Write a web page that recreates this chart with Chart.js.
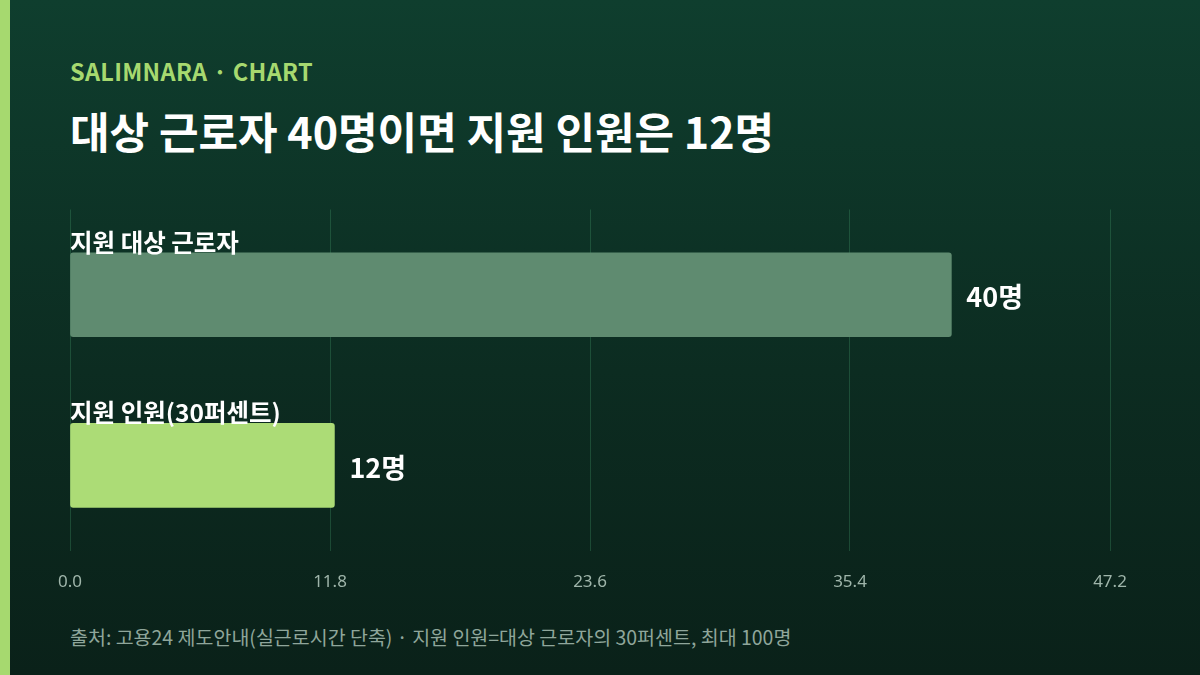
<!DOCTYPE html>
<html><head><meta charset="utf-8">
<script src="https://cdn.jsdelivr.net/npm/chart.js@4/dist/chart.umd.min.js"></script>
<style>
html,body{margin:0;padding:0;}
body{width:1200px;height:675px;overflow:hidden;position:relative;
 background:linear-gradient(180deg,#0f3e2e 0%,#0c2c21 55%,#0a2119 100%);
 font-family:"Noto Sans CJK KR","Noto Sans",sans-serif;}
#accent{position:absolute;left:0;top:0;width:10px;height:675px;background:#a6d96f;}
#brand{position:absolute;left:70px;top:54px;color:#a6d96f;font-size:23.5px;font-weight:700;letter-spacing:0.3px;}
#title{position:absolute;left:70px;top:99px;color:#fff;font-size:43px;font-weight:700;}
#note{position:absolute;left:70px;top:622px;color:#8fa69b;font-size:19.5px;}
#wrap{position:absolute;left:0;top:190px;width:1200px;height:423px;}
</style></head><body>
<div id="accent"></div>
<div id="brand">SALIMNARA · CHART</div>
<div id="title">대상 근로자 40명이면 지원 인원은 12명</div>
<div id="wrap"><canvas id="myChart"></canvas></div>
<div id="note">출처: 고용24 제도안내(실근로시간 단축) · 지원 인원=대상 근로자의 30퍼센트, 최대 100명</div>
<script>
const categories = ['지원 대상 근로자', '지원 인원(30퍼센트)'];
const values = [40, 12];
const valueLabels = ['40명', '12명'];
const barColors = ['#5f8b70', '#acdc76'];
const tickStep = 11.8;
const axisMax = 47.2;

const labelPlugin = {
    id: 'labels',
    afterDatasetsDraw(chart) {
        const ctx = chart.ctx;
        const meta = chart.getDatasetMeta(0);
        ctx.save();
        ctx.fillStyle = '#ffffff';
        meta.data.forEach((bar, i) => {
            const top = bar.y - bar.height / 2;
            ctx.font = '700 24.5px "Noto Sans CJK KR"';
            ctx.textBaseline = 'bottom';
            ctx.textAlign = 'left';
            ctx.fillText(categories[i], chart.chartArea.left, top + 2);
            ctx.font = '700 27px "Noto Sans CJK KR"';
            ctx.textBaseline = 'middle';
            ctx.fillText(valueLabels[i], bar.x + 15, bar.y + 2);
        });
        ctx.restore();
    }
};

const ctx = document.getElementById('myChart');
new Chart(ctx, {
    type: 'bar',
    data: {
        labels: categories,
        datasets: [{
            data: values,
            backgroundColor: barColors,
            borderRadius: 3,
            borderSkipped: false,
            barThickness: 84
        }]
    },
    options: {
        indexAxis: 'y',
        responsive: true,
        maintainAspectRatio: false,
        animation: false,
        layout: { padding: { left: 70, right: 90, top: 19.5, bottom: 0 } },
        plugins: { legend: { display: false }, tooltip: { enabled: false } },
        scales: {
            x: {
                min: 0, max: axisMax,
                ticks: {
                    stepSize: tickStep,
                    color: '#9fb5aa',
                    font: { size: 17, family: 'Noto Sans' },
                    padding: 21,
                    callback: v => v.toFixed(1)
                },
                grid: { color: 'rgba(70,160,110,0.3)', drawTicks: false },
                border: { display: false }
            },
            y: {
                display: false,
                grid: { display: false }
            }
        }
    },
    plugins: [labelPlugin]
});
</script>
</body></html>
